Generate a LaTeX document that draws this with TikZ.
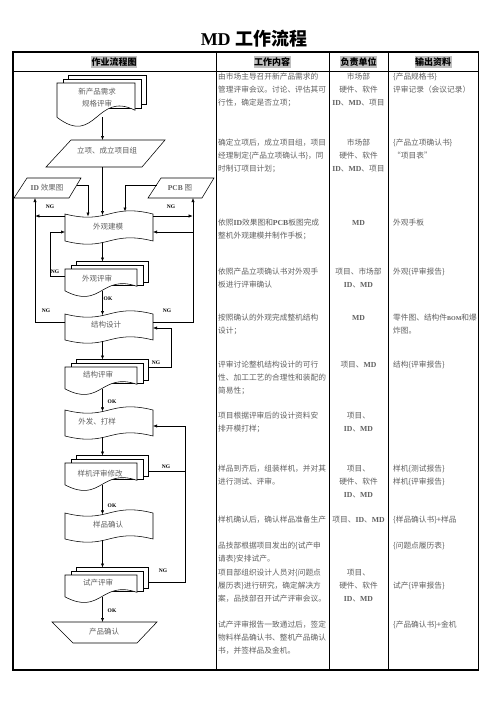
\documentclass[tikz,border=0pt]{standalone}
\usepackage{fontspec}
\setmainfont{Liberation Serif}
\newfontfamily\cjk{Noto Sans CJK SC}
\usetikzlibrary{arrows.meta}
\newcommand{\LB}[1]{{\rmfamily\bfseries #1}}
\newcommand{\ST}{\rule{0pt}{7pt}}
\newcommand{\tapeshape}[4]{%
  \draw[shp] (#1,#3) .. controls ({(#1+#2)/2},{#3+11}) and ({(#1+#2)/2},{#3-11}) .. (#2,#3)
    -- (#2,#4) .. controls ({(#1+#2)/2},{#4-11}) and ({(#1+#2)/2},{#4+11}) .. (#1,#4) -- cycle;}
\newcommand{\mdocshape}[4]{%
  \draw[shp] ({#1+11},{#2-7.5}) rectangle ({#1+#3+11},{#2+0.48*#4});
  \draw[shp] ({#1+6},{#2-4}) rectangle ({#1+#3+6},{#2+0.58*#4});
  \draw[shp] (#1,#2) -- ({#1+#3},#2) -- ({#1+#3},{#2+0.62*#4})
    .. controls ({#1+0.5*#3},{#2+0.17*#4}) and ({#1+0.5*#3},{#2+1.46*#4}) .. (#1,{#2+0.78*#4}) -- cycle;}
\begin{document}
\begin{tikzpicture}[x=1pt,y=-1pt,
 shp/.style={draw=black,fill=white,line width=0.55pt},
 conn/.style={draw=black,line width=0.55pt},
 arr/.style={conn,-{Latex[length=4pt,width=3.2pt]}},
 ftext/.style={font=\fontsize{7.5}{12}\selectfont\cjk,text=black!62,inner sep=0pt,align=center},
 lbl/.style={font=\fontsize{5.5}{6}\selectfont\rmfamily\bfseries,inner sep=0pt},
 wk/.style={font=\fontsize{7.7}{13.2}\selectfont\cjk,text=black!62,inner sep=0pt,align=left,anchor=north west},
 unit/.style={font=\fontsize{7.7}{13.2}\selectfont\cjk,text=black!62,inner sep=0pt,align=center,anchor=north},
 hdr/.style={font=\fontsize{9}{10}\selectfont\cjk\bfseries,fill=gray!50,inner xsep=0.5pt,inner ysep=1.5pt},
 ttl/.style={font=\fontsize{18}{20}\selectfont\bfseries,inner sep=0pt},
 tblo/.style={line width=1.1pt},
 tbli/.style={line width=0.9pt}]
\useasboundingbox[fill=white] (0,0) rectangle (496,702);
% title
\node[ttl] (title) at (254,39) {\LB{MD} {\cjk 工作流程}};
% table
\draw[tblo] (13,52) rectangle (478.5,670);
\draw[tbli] (13,71) -- (478.5,71);
\draw[tbli] (216,52) -- (216,670);
\draw[tbli] (329,52) -- (329,670);
\draw[tbli] (388,52) -- (388,670);
\node[hdr] (h1) at (114,62) {作业流程图};
\node[hdr] (h2) at (272,62) {工作内容};
\node[hdr] (h3) at (358.5,62) {负责单位};
\node[hdr] (h4) at (433,62) {输出资料};
% ---------- flowchart shapes ----------
\mdocshape{57}{83}{78}{44}
\node[ftext] (n1) at (97,98) {新产品需求\\规格评审};
\draw[shp] (71,140) -- (165,140) -- (142,167) -- (46,167) -- cycle;
\node[ftext] (n2) at (107,151) {立项、成立项目组};
\draw[shp] (27,178) -- (81,178) -- (69,198) -- (14,198) -- cycle;
\node[ftext] (nid) at (47,188) {\LB{ID} 效果图};
\draw[shp] (161,178) -- (214,178) -- (202,198) -- (148,198) -- cycle;
\node[ftext] (npcb) at (180,188) {\LB{PCB} 图};
\tapeshape{65}{153}{214}{241}
\node[ftext] (n3) at (108,227) {外观建模};
\mdocshape{65}{269}{72}{28}
\node[ftext] (n4) at (97,279) {外观评审};
\tapeshape{65}{153}{314}{340}
\node[ftext] (n5) at (106,325) {结构设计};
\mdocshape{65}{367}{72}{28}
\node[ftext] (n6) at (98,375) {结构评审};
\tapeshape{65}{153}{410}{436}
\node[ftext] (n7) at (97,422) {外发、打样};
\mdocshape{65}{463}{72}{28}
\node[ftext] (n8) at (100,474) {样机评审修改};
\tapeshape{65}{153}{513}{539}
\node[ftext] (n9) at (108,525) {样品确认};
\mdocshape{65}{575}{72}{28}
\node[ftext] (n10) at (98,583) {试产评审};
\draw[shp] (52,622) -- (157,622) -- (137,643) -- (73,643) -- cycle;
\node[ftext] (n11) at (104,632) {产品确认};
% ---------- connection points ----------
\coordinate (c1s) at (102.5,117);   \coordinate (c1e) at (102.5,140);
\coordinate (c2s) at (102.5,167);   \coordinate (c2e) at (102.5,215);
\coordinate (idr) at (77,185);      \coordinate (ida) at (88,216.5);
\coordinate (pcbl) at (156.5,185);  \coordinate (pcba) at (125,211.5);
\coordinate (m3l) at (65,216);      \coordinate (lvt) at (35.3,216);
\coordinate (m3r) at (153,216);     \coordinate (rvt) at (192.7,216);
\coordinate (m5l) at (65,322);      \coordinate (idb) at (35,198);
\coordinate (m5r) at (153,322);     \coordinate (pcbb) at (193,198);
\coordinate (rvb) at (193,232);     \coordinate (m3ra) at (153,232);
\coordinate (m4l) at (65,276);      \coordinate (m3la) at (65,232);
\coordinate (c3s) at (102.5,242.5); \coordinate (c3e) at (102.5,261.5);
\coordinate (c4s) at (102.5,291);   \coordinate (c4e) at (102.5,315);
\coordinate (c5s) at (102.5,341.4); \coordinate (c5e) at (102.5,359.5);
\coordinate (c6s) at (102.5,389);   \coordinate (c6e) at (102.5,411.4);
\coordinate (c7s) at (102.5,437.4); \coordinate (c7e) at (102.5,455.5);
\coordinate (c8s) at (102.5,485);   \coordinate (c8e) at (102.5,514.4);
\coordinate (c9s) at (102.5,540.4); \coordinate (c9e) at (102.5,567.5);
\coordinate (c10s) at (102.5,597);  \coordinate (c10e) at (102.5,622);
\coordinate (m6r) at (148,367);     \coordinate (m5ra) at (153,328);
\coordinate (m8r) at (148,471);     \coordinate (rl8) at (185,471);
\coordinate (m10r) at (148,582);    \coordinate (m7ra) at (153,426);
% ---------- connectors ----------
\draw[arr] (c1s) -- (c1e);
\draw[arr] (c2s) -- (c2e);
\draw[arr] (idr) -| (ida);
\draw[arr] (pcbl) -| (pcba);
\draw[arr] (m3l) -- (lvt);
\draw[arr] (m3r) -- (rvt);
\draw[arr] (m5l) -| (idb);
\draw[arr] (m5r) -| (pcbb);
\draw[arr] (rvb) -- (m3ra);
\draw[arr] (m4l) -- ++(-15,0) |- (m3la);
\draw[arr] (c3s) -- (c3e);
\draw[arr] (c4s) -- (c4e);
\draw[arr] (c5s) -- (c5e);
\draw[arr] (c6s) -- (c6e);
\draw[arr] (c7s) -- (c7e);
\draw[arr] (c8s) -- (c8e);
\draw[arr] (c9s) -- (c9e);
\draw[arr] (c10s) -- (c10e);
\draw[arr] (m6r) -- (171,367) |- (m5ra);
\draw[conn] (m8r) -- (rl8);
\draw[arr] (m10r) -- (185,582) |- (m7ra);
% labels
\node[lbl] (g1) at (50,207) {NG};
\node[lbl] (g2) at (171,207) {NG};
\node[lbl] (g3) at (55,272) {NG};
\node[lbl] (k1) at (108,299) {OK};
\node[lbl] (g4) at (46,311) {NG};
\node[lbl] (g5) at (167,311) {NG};
\node[lbl] (g6) at (156,363) {NG};
\node[lbl] (k2) at (112,402) {OK};
\node[lbl] (g7) at (166,467) {NG};
\node[lbl] (k3) at (112,506) {OK};
\node[lbl] (g8) at (163,571) {NG};
\node[lbl] (k4) at (112,611) {OK};
% ---------- work content ----------
\node[wk] (w1) at (218,71.9) {\ST 由市场主导召开新产品需求的\\管理评审会议。讨论、评估其可\\行性，确定是否立项；};
\node[wk] (w2) at (218,137.9) {\ST 确定立项后，成立项目组，项目\\经理制定\{产品立项确认书\}，同\\时制订项目计划；};
\node[wk] (w3) at (218,217.9) {\ST 依照\LB{ID}效果图和\LB{PCB}板图完成\\整机外观建模并制作手板；};
\node[wk] (w4) at (218,266.9) {\ST 依照产品立项确认书对外观手\\板进行评审确认};
\node[wk] (w5) at (218,312.9) {\ST 按照确认的外观完成整机结构\\设计；};
\node[wk] (w6) at (218,359.9) {\ST 评审讨论整机结构设计的可行\\性、加工工艺的合理性和装配的\\简易性；};
\node[wk] (w7) at (218,410.9) {\ST 项目根据评审后的设计资料安\\排开模打样；};
\node[wk] (w8) at (218,463.9) {\ST 样品到齐后，组装样机，并对其\\进行测试、评审。};
\node[wk] (w9) at (218,514.9) {\ST 样机确认后，确认样品准备生产};
\node[wk] (w10) at (218,540.9) {\ST 品技部根据项目发出的\{试产申\\请表\}安排试产。};
\node[wk] (w11) at (218,567.9) {\ST 项目部组织设计人员对\{问题点\\履历表\}进行研究，确定解决方\\案，品技部召开试产评审会议。};
\node[wk] (w12) at (218,619.9) {\ST 试产评审报告一致通过后，签定\\物料样品确认书、整机产品确认\\书，并签样品及金机。};
% ---------- responsible units ----------
\node[unit] (u1) at (358.5,71.9) {\ST 市场部\\硬件、软件\\\LB{ID}、\LB{MD}、项目};
\node[unit] (u2) at (358.5,137.9) {\ST 市场部\\硬件、软件\\\LB{ID}、\LB{MD}、项目};
\node[unit] (u3) at (358.5,217.9) {\ST\LB{MD}};
\node[unit] (u4) at (358.5,266.9) {\ST 项目、市场部\\\LB{ID}、\LB{MD}};
\node[unit] (u5) at (358.5,312.9) {\ST\LB{MD}};
\node[unit] (u6) at (358.5,359.9) {\ST 项目、\LB{MD}};
\node[unit] (u7) at (358.5,410.9) {\ST 项目、\\\LB{ID}、\LB{MD}};
\node[unit] (u8) at (358.5,463.9) {\ST 项目、\\硬件、软件\\\LB{ID}、\LB{MD}};
\node[unit] (u9) at (358.5,514.9) {\ST 项目、\LB{ID}、\LB{MD}};
\node[unit] (u11) at (358.5,567.9) {\ST 项目、\\硬件、软件\\\LB{ID}、\LB{MD}};
% ---------- outputs ----------
\node[wk] (o1) at (393,71.9) {\ST\{产品规格书\}\\评审记录（会议记录）};
\node[wk] (o2) at (393,137.9) {\ST\{产品立项确认书\}\\“项目表”};
\node[wk] (o3) at (393,217.9) {\ST 外观手板};
\node[wk] (o4) at (393,266.9) {\ST 外观\{评审报告\}};
\node[wk] (o5) at (393,312.9) {\ST 零件图、结构件{\fontsize{6}{6}\selectfont\LB{BOM}}和爆\\炸图。};
\node[wk] (o6) at (393,359.9) {\ST 结构\{评审报告\}};
\node[wk] (o8) at (393,463.9) {\ST 样机\{测试报告\}\\样机\{评审报告\}};
\node[wk] (o9) at (393,514.9) {\ST\{样品确认书\}+样品};
\node[wk] (o10) at (393,540.9) {\ST\{问题点履历表\}};
\node[wk] (o11) at (393,580.9) {\ST 试产\{评审报告\}};
\node[wk] (o12) at (393,619.9) {\ST\{产品确认书\}+金机};
\end{tikzpicture}
\end{document}
